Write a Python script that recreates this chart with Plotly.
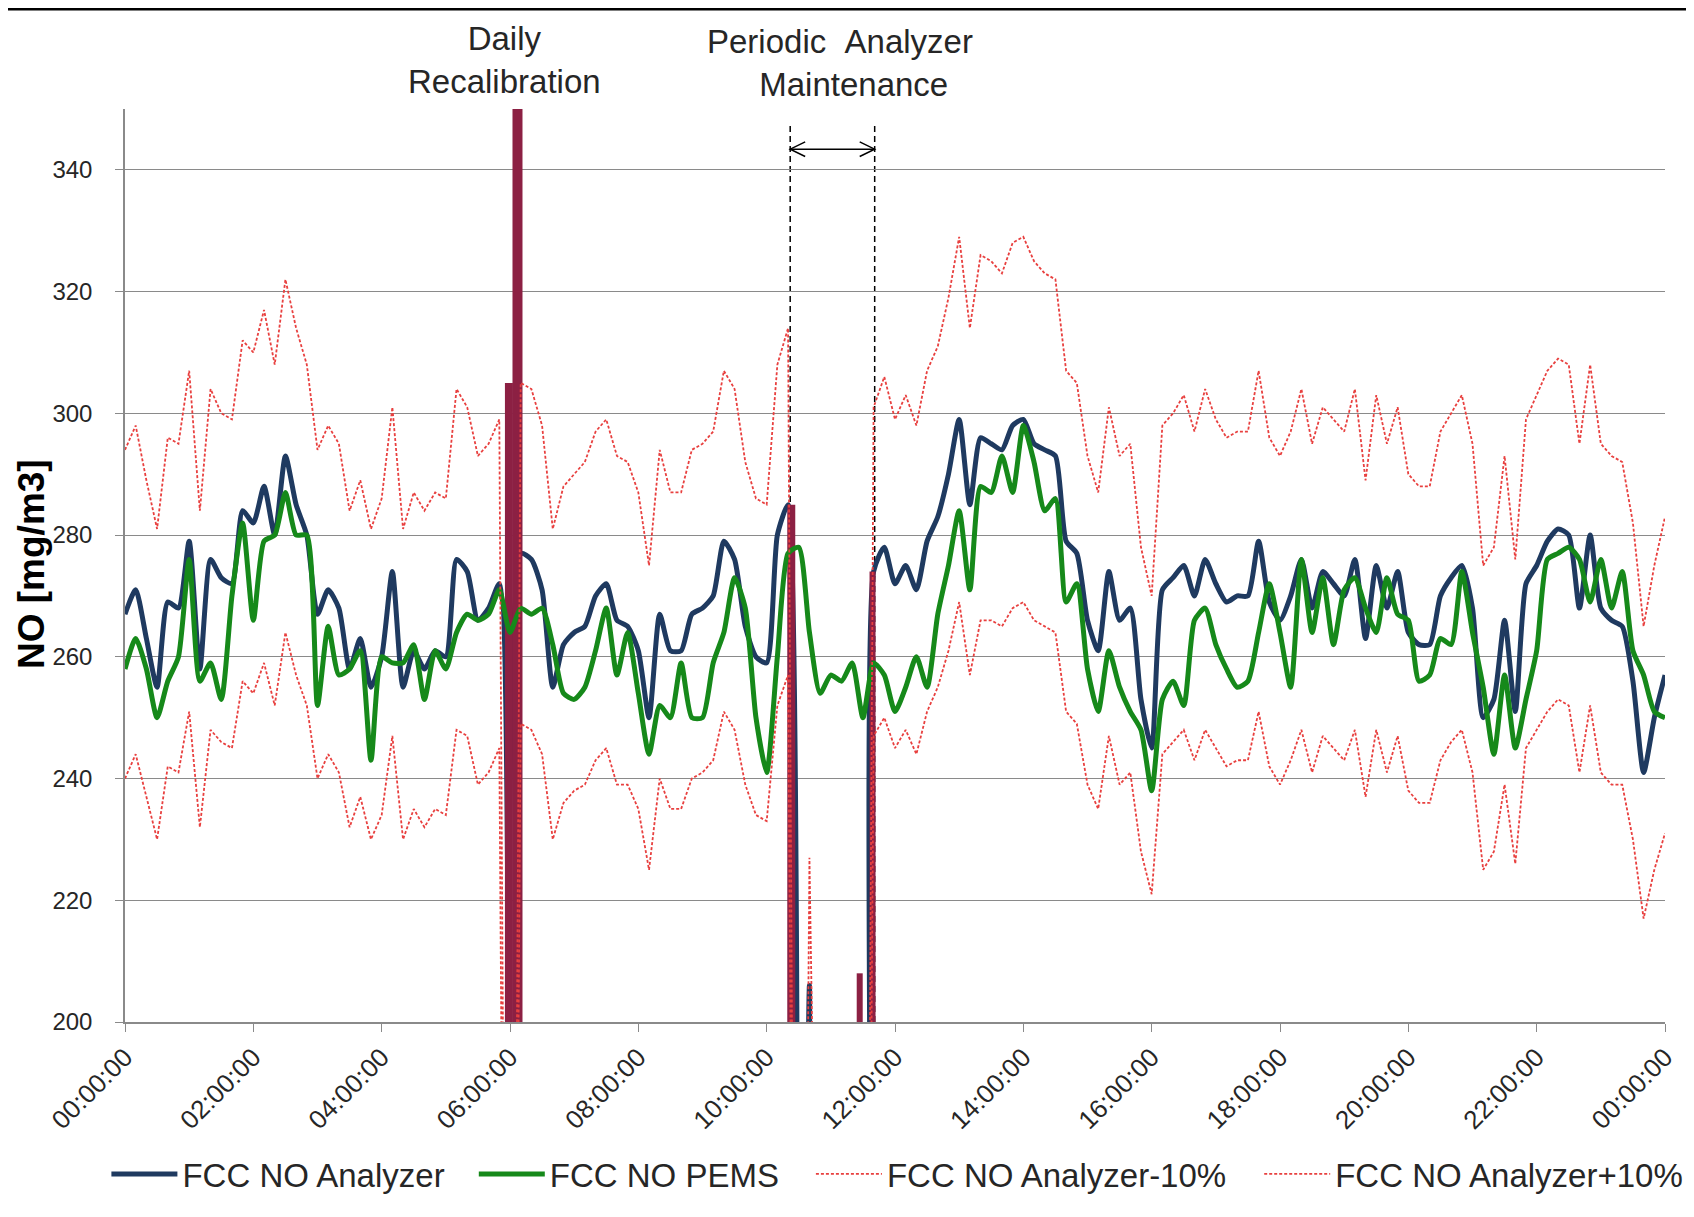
import plotly.graph_objects as go

# ---------------- data ----------------
minutes = list(range(0, 1441, 10))  # time of day in minutes, 10-min steps

analyzer = [
    267, 271, 263, 255, 269, 268, 279, 258, 276, 273, 272, 284,
    282, 288, 280, 293, 285, 280, 267, 271, 268, 258, 263, 255,
    260, 274, 255, 261, 258, 261, 260, 276, 274, 266, 268, 272,
    0, 277, 276, 271, 255, 262, 264, 265, 270, 272, 266, 265,
    261, 250, 267, 261, 261, 267, 268, 270, 279, 276, 265, 260,
    259, 280, 285, 0, 206, 0, 0, 0, 0, 0, 274, 278,
    272, 275, 271, 279, 283, 290, 299, 285, 296, 295, 294, 298,
    299, 295, 294, 293, 279, 277, 266, 261, 274, 266, 268, 253,
    245, 271, 273, 275, 270, 276, 272, 269, 270, 270, 279, 269,
    266, 270, 276, 268, 274, 272, 270, 276, 263, 275, 268, 274,
    264, 262, 262, 270, 273, 275, 268, 250, 253, 266, 251, 272,
    275, 279, 281, 280, 268, 280, 268, 266, 265, 256, 241, 250,
    257,
]

pems = [
    258, 263, 258, 250, 256, 260, 276, 256, 259, 253, 270, 282,
    266, 279, 280, 287, 280, 280, 252, 265, 257, 258, 261, 243,
    260, 259, 259, 262, 253, 261, 258, 264, 267, 266, 267, 271,
    264, 268, 267, 268, 262, 254, 253, 255, 261, 268, 257, 264,
    254, 244, 252, 250, 259, 250, 250, 259, 264, 273, 268, 250,
    241, 260, 277, 278, 264, 254, 257, 256, 259, 250, 259, 257,
    251, 255, 260, 255, 267, 275, 284, 271, 288, 287, 293, 287,
    298, 292, 284, 286, 269, 272, 258, 251, 261, 255, 251, 248,
    238, 253, 256, 252, 266, 268, 262, 258, 255, 256, 264, 272,
    264, 255, 276, 264, 273, 262, 271, 273, 268, 264, 273, 267,
    266, 256, 257, 263, 262, 274, 264, 255, 244, 257, 245, 253,
    261, 276, 277, 278, 276, 269, 276, 268, 274, 261, 257, 251,
    250,
]

analyzer_minus10 = [
    240, 244, 237, 230, 242, 241, 251, 232, 248, 246, 245, 256,
    254, 259, 252, 264, 257, 252, 240, 244, 241, 232, 237, 230,
    234, 247, 230, 235, 232, 235, 234, 248, 247, 239, 241, 245,
    0, 249, 248, 244, 230, 236, 238, 239, 243, 245, 239, 239,
    235, 225, 240, 235, 235, 240, 241, 243, 251, 248, 239, 234,
    233, 252, 257, 0, 185, 0, 0, 0, 0, 0, 247, 250,
    245, 248, 244, 251, 255, 261, 269, 257, 266, 266, 265, 268,
    269, 266, 265, 264, 251, 249, 239, 235, 247, 239, 241, 228,
    221, 244, 246, 248, 243, 248, 245, 242, 243, 243, 251, 242,
    239, 243, 248, 241, 247, 245, 243, 248, 237, 248, 241, 247,
    238, 236, 236, 243, 246, 248, 241, 225, 228, 239, 226, 245,
    248, 251, 253, 252, 241, 252, 241, 239, 239, 230, 217, 225,
    231,
]

analyzer_plus10 = [
    294, 298, 289, 281, 296, 295, 307, 284, 304, 300, 299, 312,
    310, 317, 308, 322, 314, 308, 294, 298, 295, 284, 289, 281,
    286, 301, 281, 287, 284, 287, 286, 304, 301, 293, 295, 299,
    0, 305, 304, 298, 281, 288, 290, 292, 297, 299, 293, 292,
    287, 275, 294, 287, 287, 294, 295, 297, 307, 304, 292, 286,
    285, 308, 314, 0, 227, 0, 0, 0, 0, 0, 301, 306,
    299, 303, 298, 307, 311, 319, 329, 314, 326, 325, 323, 328,
    329, 325, 323, 322, 307, 305, 293, 287, 301, 293, 295, 278,
    270, 298, 300, 303, 297, 304, 299, 296, 297, 297, 307, 296,
    293, 297, 304, 295, 301, 299, 297, 304, 289, 303, 295, 301,
    290, 288, 288, 297, 300, 303, 295, 275, 278, 293, 276, 299,
    303, 307, 309, 308, 295, 308, 295, 293, 292, 282, 265, 275,
    283,
]

# analyzer events (calibration / maintenance spikes drawn in maroon)
event_minutes = [359, 367, 623, 687, 699]
event_peaks = [305, 360, 285, 208, 274]
maintenance_window = [622, 701]

tick_minutes = list(range(0, 1441, 120))
tick_labels = ["00:00:00", "02:00:00", "04:00:00", "06:00:00", "08:00:00",
               "10:00:00", "12:00:00", "14:00:00", "16:00:00", "18:00:00",
               "20:00:00", "22:00:00", "00:00:00"]
y_ticks = [200, 220, 240, 260, 280, 300, 320, 340]
y_min, y_max = 200, 350

# ---------------- styles ----------------
FONT = "Liberation Sans, Arial, sans-serif"
NAVY = "#1f3a60"
GREEN = "#16891a"
RED = "#e8403f"
MAROON = "#8c2043"
GRID = "#8a8a8a"
TEXT = "#262626"
event_widths = [8, 10, 8, 6, 6]

# page -> paper helpers (plot area: x 125..1665, y 109..1022 on the page)
PW, PH = 1540.0, 913.0


def px(page_x):
    return (page_x - 125) / PW


def py(page_y):
    return (1022 - page_y) / PH


fig = go.Figure()

fig.add_trace(go.Scatter(
    x=minutes, y=analyzer, mode="lines", name="FCC NO Analyzer", legend="legend",
    line=dict(color=NAVY, width=5, shape="spline", smoothing=0.6)))

# maroon event bars (drawn over the analyzer line)
for m, p, w in zip(event_minutes, event_peaks, event_widths):
    fig.add_trace(go.Scatter(
        x=[m, m], y=[y_min, p], mode="lines",
        line=dict(color=MAROON, width=w),
        showlegend=False, hoverinfo="skip"))

fig.add_trace(go.Scatter(
    x=minutes, y=pems, mode="lines", name="FCC NO PEMS", legend="legend2",
    line=dict(color=GREEN, width=5, shape="spline", smoothing=0.6)))
fig.add_trace(go.Scatter(
    x=minutes, y=analyzer_minus10, mode="lines", name="FCC NO Analyzer-10%", legend="legend3",
    line=dict(color=RED, width=1.8, dash="3px,2px")))
fig.add_trace(go.Scatter(
    x=minutes, y=analyzer_plus10, mode="lines", name="FCC NO Analyzer+10%", legend="legend4",
    line=dict(color=RED, width=1.8, dash="3px,2px")))

shapes = []
# black band at the very top of the picture
shapes.append(dict(type="rect", xref="paper", yref="paper",
                   x0=-0.2, x1=1.2, y0=py(10.5), y1=py(0),
                   fillcolor="black", line=dict(width=0), layer="above"))
# maintenance dashed markers
for m in maintenance_window:
    shapes.append(dict(type="line", xref="x", yref="y",
                       x0=m, x1=m, y0=y_min, y1=347.5,
                       line=dict(color="black", width=1.5, dash="6px,4px"),
                       layer="below"))
# double arrow between the maintenance markers
arrow_y = 343.4
m0, m1 = maintenance_window
shapes.append(dict(type="line", xref="x", yref="y", x0=m0, x1=m1,
                   y0=arrow_y, y1=arrow_y, line=dict(color="black", width=1.5)))
for tip, d in ((m0, 14), (m1, -14)):
    shapes.append(dict(type="path", xref="x", yref="y",
                       path=f"M{tip + d},{arrow_y + 1.2} L{tip},{arrow_y} L{tip + d},{arrow_y - 1.2}",
                       line=dict(color="black", width=1.5)))

annotations = [
    dict(text="Daily<br>Recalibration", x=px(504.6), y=py(60),
         xref="paper", yref="paper", showarrow=False, xanchor="center", yanchor="middle",
         align="center", font=dict(family=FONT, size=33, color=TEXT)),
    dict(text="Periodic\u00a0\u00a0Analyzer<br>\u00a0\u00a0\u00a0Maintenance", x=px(840), y=py(63),
         xref="paper", yref="paper", showarrow=False, xanchor="center", yanchor="middle",
         align="center", font=dict(family=FONT, size=33, color=TEXT)),
    dict(text="<b>NO [mg/m3]</b>", x=px(31), y=py(564), textangle=-90,
         xref="paper", yref="paper", showarrow=False, xanchor="center", yanchor="middle",
         font=dict(family=FONT, size=37, color="black")),
]

legend_style = dict(orientation="h", xanchor="left", yanchor="middle", y=py(1174),
                    font=dict(family=FONT, size=33, color=TEXT),
                    itemwidth=66, bgcolor="rgba(0,0,0,0)")

fig.update_layout(
    width=1678, height=1201,
    margin=dict(l=117, r=21, t=101, b=187, autoexpand=False),
    paper_bgcolor="white", plot_bgcolor="white",
    font=dict(family=FONT, color=TEXT),
    shapes=shapes, annotations=annotations,
    showlegend=True,
    legend=dict(legend_style, x=px(106.4)),
    legend2=dict(legend_style, x=px(473.8)),
    legend3=dict(legend_style, x=px(810.9)),
    legend4=dict(legend_style, x=px(1259.2)),
)
fig.update_xaxes(
    range=[0, 1440], tickvals=tick_minutes, ticktext=tick_labels, tickangle=-45,
    showgrid=False, zeroline=False, showline=True, linecolor=GRID, linewidth=1.5,
    ticks="outside", ticklen=8, tickcolor=GRID, automargin=False,
    tickfont=dict(family=FONT, size=26, color=TEXT))
fig.update_yaxes(
    range=[y_min, y_max], tickvals=y_ticks, showgrid=True, gridcolor=GRID, gridwidth=1,
    zeroline=False, showline=True, linecolor=GRID, linewidth=1.5,
    ticks="outside", ticklen=8, tickcolor=GRID, ticklabelstandoff=18, automargin=False,
    tickfont=dict(family=FONT, size=24, color=TEXT))

fig.write_html("out.html")
